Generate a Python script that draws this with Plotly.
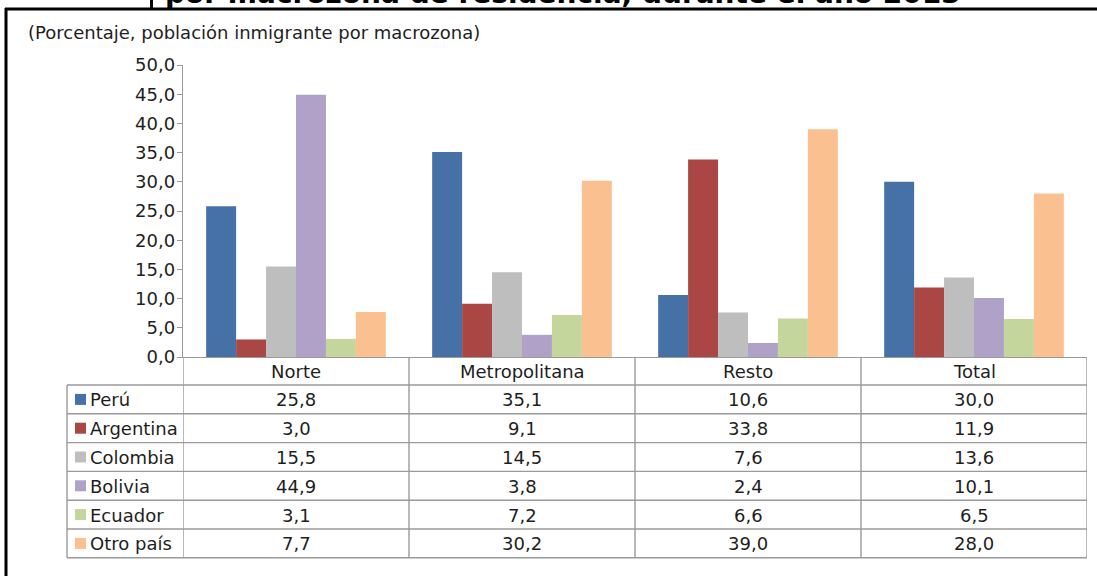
import plotly.graph_objects as go

# ---------------- data ----------------
categories = ["Norte", "Metropolitana", "Resto", "Total"]
series_names = ["Perú", "Argentina", "Colombia", "Bolivia", "Ecuador", "Otro país"]
peru = [25.8, 35.1, 10.6, 30.0]
argentina = [3.0, 9.1, 33.8, 11.9]
colombia = [15.5, 14.5, 7.6, 13.6]
bolivia = [44.9, 3.8, 2.4, 10.1]
ecuador = [3.1, 7.2, 6.6, 6.5]
otro_pais = [7.7, 30.2, 39.0, 28.0]
y_tickvals = [0, 5, 10, 15, 20, 25, 30, 35, 40, 45, 50]
y_ticktext = ["0,0", "5,0", "10,0", "15,0", "20,0", "25,0", "30,0", "35,0", "40,0", "45,0", "50,0"]
title_text = "por macrozona de residencia, durante el año 2013"
subtitle_text = "(Porcentaje, población inmigrante por macrozona)"

series_values = [peru, argentina, colombia, bolivia, ecuador, otro_pais]
colors = ["#4571A7", "#AA4643", "#BEBEBE", "#B0A1C8", "#C4D69C", "#FAC08F"]

# ---------------- geometry (pixels) ----------------
W, H = 1097, 577
plot_left, plot_right = 183, 1087
y0_px, y50_px = 357, 65
table_left = 67
row_top = 385.0
row_h = 28.8
n_rows = len(series_names)
grid_color = "#9A9A9A"
text_color = "#1E1E1E"
FONT = "DejaVu Sans"
FS = 18


def px(x):
    return x / W


def py(y):
    return 1 - y / H


fig = go.Figure()
for name, vals, col in zip(series_names, series_values, colors):
    fig.add_trace(go.Bar(x=categories, y=vals, name=name, marker_color=col,
                         marker_line_width=0, showlegend=False))

shapes = []
annotations = []

# outer black frame (top + left) and title frame edge
shapes.append(dict(type="line", xref="paper", yref="paper", x0=px(5), x1=px(1097),
                   y0=py(9), y1=py(9), line=dict(color="black", width=3)))
shapes.append(dict(type="line", xref="paper", yref="paper", x0=px(6), x1=px(6),
                   y0=py(8), y1=py(576), line=dict(color="black", width=3)))
shapes.append(dict(type="line", xref="paper", yref="paper", x0=px(151.5), x1=px(151.5),
                   y0=py(0), y1=py(9), line=dict(color="black", width=3)))

# title (cut off at top) and subtitle
annotations.append(dict(text="<b>" + title_text + "</b>", xref="paper", yref="paper",
                        x=px(563), y=py(12), xanchor="center", yanchor="bottom",
                        showarrow=False, font=dict(family=FONT, size=28, color="black")))
annotations.append(dict(text=subtitle_text, xref="paper", yref="paper",
                        x=px(26), y=py(33), xanchor="left", yanchor="middle",
                        showarrow=False, font=dict(family=FONT, size=18, color=text_color)))

table_bottom = row_top + n_rows * row_h

# horizontal table lines
for i in range(n_rows + 1):
    yy = row_top + i * row_h
    shapes.append(dict(type="line", xref="paper", yref="paper", x0=px(table_left), x1=px(plot_right),
                       y0=py(yy), y1=py(yy), line=dict(color=grid_color, width=1.4)))
# vertical table lines
shapes.append(dict(type="line", xref="paper", yref="paper", x0=px(table_left), x1=px(table_left),
                   y0=py(row_top), y1=py(table_bottom), line=dict(color=grid_color, width=1.4)))
for k in range(len(categories) + 1):
    shapes.append(dict(type="line", xref="x", yref="paper", x0=k - 0.5, x1=k - 0.5,
                       y0=py(y0_px), y1=py(table_bottom), line=dict(color=grid_color, width=1.4)))

# header labels
for c in categories:
    annotations.append(dict(text=c, xref="x", yref="paper", x=c, y=py((y0_px + row_top) / 2 + 0.5),
                            xanchor="center", yanchor="middle", showarrow=False,
                            font=dict(family=FONT, size=FS, color=text_color)))

# rows
for i, (name, vals, col) in enumerate(zip(series_names, series_values, colors)):
    yc = row_top + (i + 0.5) * row_h
    shapes.append(dict(type="rect", xref="paper", yref="paper", x0=px(75), x1=px(86),
                       y0=py(yc - 5.5), y1=py(yc + 5.5), fillcolor=col, line=dict(width=0)))
    annotations.append(dict(text=name, xref="paper", yref="paper", x=px(88), y=py(yc + 0.5),
                            xanchor="left", yanchor="middle", showarrow=False,
                            font=dict(family=FONT, size=FS, color=text_color)))
    for c, v in zip(categories, vals):
        annotations.append(dict(text=f"{v:.1f}".replace(".", ","), xref="x", yref="paper",
                                x=c, y=py(yc + 0.5), xanchor="center", yanchor="middle",
                                showarrow=False, font=dict(family=FONT, size=FS, color=text_color)))

fig.update_layout(
    width=W, height=H,
    margin=dict(l=0, r=0, t=0, b=0, autoexpand=False),
    paper_bgcolor="white", plot_bgcolor="white",
    barmode="group", bargap=0.205, bargroupgap=0,
    shapes=shapes, annotations=annotations,
    xaxis=dict(domain=[px(plot_left), px(plot_right)], range=[-0.5, 3.5],
               showticklabels=False, ticks="", showgrid=False, zeroline=False,
               showline=True, linecolor=grid_color, linewidth=1.4, fixedrange=True),
    yaxis=dict(domain=[py(y0_px), py(y50_px)], range=[0, 50],
               tickvals=y_tickvals, ticktext=y_ticktext,
               ticks="outside", ticklen=5, tickcolor=grid_color, tickwidth=1.4,
               ticklabelstandoff=-2,
               showline=True, linecolor=grid_color, linewidth=1.4,
               showgrid=False, zeroline=False, fixedrange=True,
               tickfont=dict(family=FONT, size=FS, color=text_color)),
)

fig.write_html("out.html", config={"displayModeBar": False},
               post_script="document.body.style.margin='0';document.body.style.overflow='hidden';")
